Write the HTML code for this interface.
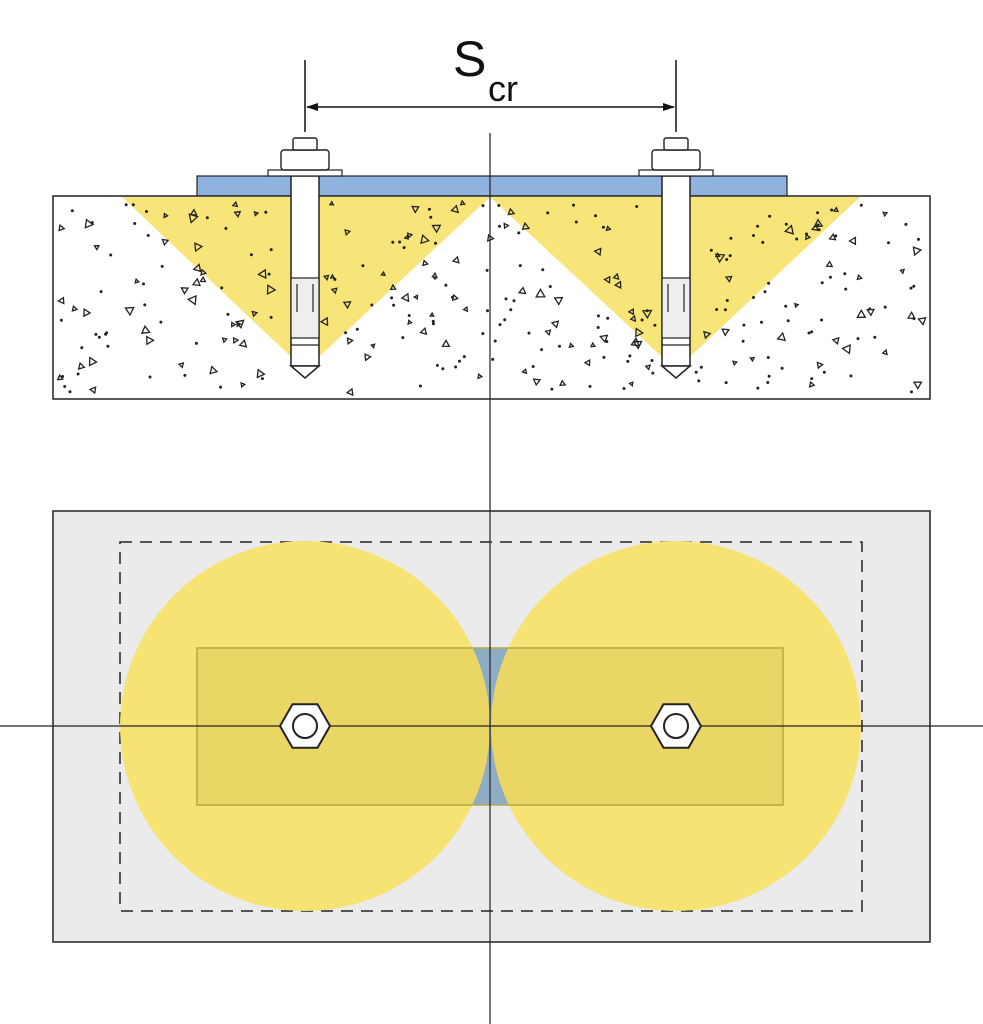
<!DOCTYPE html>
<html><head><meta charset="utf-8"><style>html,body{margin:0;padding:0;background:#fff}svg{display:block}</style></head><body>
<svg id="s" width="983" height="1024" viewBox="0 0 983 1024" xmlns="http://www.w3.org/2000/svg">
<defs><marker id="a" markerWidth="12" markerHeight="8" refX="11" refY="4" orient="auto-start-reverse" markerUnits="userSpaceOnUse"><path d="M0,0 L12,4 L0,8 Z" fill="#111"/></marker></defs>
<!-- dimension -->
<line x1="305" y1="60" x2="305" y2="132" stroke="#111" stroke-width="1.5"/>
<line x1="676" y1="60" x2="676" y2="132" stroke="#111" stroke-width="1.5"/>
<line x1="307" y1="107" x2="674" y2="107" stroke="#111" stroke-width="1.5" marker-start="url(#a)" marker-end="url(#a)"/>
<text x="453" y="76" font-family="Liberation Sans, sans-serif" font-size="50" fill="#111">S</text>
<text x="488" y="101" font-family="Liberation Sans, sans-serif" font-size="36" fill="#111">cr</text>
<!-- plate -->
<rect x="197" y="176" width="590" height="20" fill="#8fb3de" stroke="#222" stroke-width="1.2"/>
<!-- concrete -->
<rect x="53" y="196" width="877" height="203" fill="#fff" stroke="#222" stroke-width="1.5"/>
<polygon points="122,197 490,197 305,370" fill="#f8e57a"/>
<polygon points="490,197 860,197 676,370" fill="#f8e57a"/>
<g id="dots"></g>
<g id="anchors"></g>
<!-- bottom -->
<rect x="53" y="511" width="877" height="431" fill="#ebebeb" stroke="#222" stroke-width="1.5"/>
<rect x="120" y="542" width="742" height="369" fill="none" stroke="#222" stroke-width="1.5" stroke-dasharray="12,8"/>
<rect x="197" y="648" width="586" height="157" fill="#8fb3de"/>
<circle cx="305" cy="726" r="185" fill="#f7e373"/>
<circle cx="676" cy="726" r="185" fill="#f7e373"/>
<rect x="197" y="648" width="586" height="157" fill="#8a7a00" fill-opacity="0.12" stroke="#b8a84a" stroke-width="1.5"/>
<line x1="0" y1="726" x2="983" y2="726" stroke="#222" stroke-width="1.2"/>
<line x1="490" y1="133" x2="490" y2="1024" stroke="#222" stroke-width="1.2"/>
<g id="nuts"></g>
</svg>
<script>
var ns="http://www.w3.org/2000/svg",seed=7;function r(){seed=(seed*16807)%2147483647;return seed/2147483647;}
var d=document.getElementById("dots"),h="";
for(var i=0;i<330;i++){var x=60+r()*864,y=203+r()*190;if(Math.abs(x-305)<20||Math.abs(x-676)<20)continue;
var s=2+r()*3;if(r()<0.45){var a=r()*6.28;h+='<polygon points="'+[0,2.1,4.2].map(function(k){return (x+s*Math.cos(a+k)).toFixed(1)+","+(y+s*Math.sin(a+k)).toFixed(1)}).join(" ")+'" fill="none" stroke="#222" stroke-width="1.3"/>';}
else h+='<circle cx="'+x.toFixed(1)+'" cy="'+y.toFixed(1)+'" r="1.5" fill="#222"/>';}
d.innerHTML=h;
var A="",N="";[305,676].forEach(function(c){
A+='<rect x="'+(c-14)+'" y="176" width="28" height="190" fill="#fff" stroke="#222" stroke-width="1.5"/>';
A+='<polygon points="'+(c-14)+',366 '+(c+14)+',366 '+c+',378" fill="#fff" stroke="#222" stroke-width="1.5"/>';
A+='<rect x="'+(c-14)+'" y="278" width="28" height="60" fill="#eee" stroke="#222" stroke-width="1.2"/>';
A+='<path d="M'+(c-8)+',284 v28 M'+(c+8)+',284 v28 M'+(c-14)+',345 h28" stroke="#222" stroke-width="1.2" fill="none"/>';
A+='<rect x="'+(c-37)+'" y="170" width="74" height="6" fill="#fff" stroke="#222" stroke-width="1.2"/>';
A+='<rect x="'+(c-24)+'" y="150" width="48" height="20" rx="3" fill="#fff" stroke="#222" stroke-width="1.4"/>';
A+='<rect x="'+(c-12)+'" y="138" width="24" height="12" rx="2" fill="#fff" stroke="#222" stroke-width="1.4"/>';
N+='<polygon points="'+[0,1,2,3,4,5].map(function(k){var a=k*Math.PI/3;return (c+25*Math.cos(a)).toFixed(1)+","+(726+25*Math.sin(a)).toFixed(1)}).join(" ")+'" fill="#fff" stroke="#222" stroke-width="2"/>';
N+='<circle cx="'+c+'" cy="726" r="12" fill="#fff" stroke="#222" stroke-width="2"/>';});
document.getElementById("anchors").innerHTML=A;document.getElementById("nuts").innerHTML=N;
</script>
</body></html>
